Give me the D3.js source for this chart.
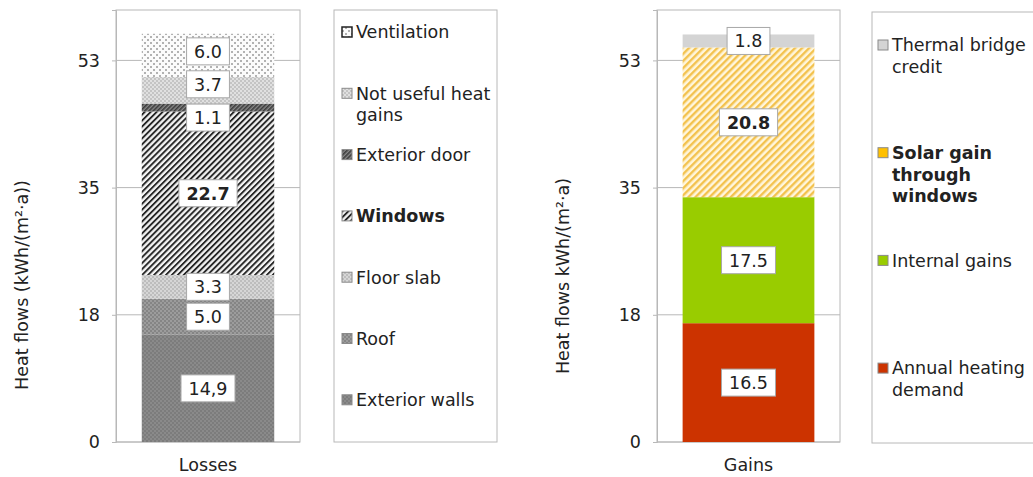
<!DOCTYPE html>
<meta charset="utf-8">
<script src="https://d3js.org/d3.v7.min.js"></script>
<style>
  body { margin: 0; background: #fff; }
  text { font-family: "DejaVu Sans", Verdana, sans-serif; fill: #222; }
</style>
<svg id="chart" width="1033" height="477"></svg>

<script>
// ---- data ----
var lossKeys = ["Exterior walls", "Roof", "Floor slab", "Windows", "Exterior door", "Not useful heat gains", "Ventilation"];
var lossValues = [14.9, 5.0, 3.3, 22.7, 1.1, 3.7, 6.0];
var lossLabels = ["14,9", "5.0", "3.3", "22.7", "1.1", "3.7", "6.0"];
var lossLegend = [["Exterior walls"], ["Roof"], ["Floor slab"], ["Windows"], ["Exterior door"], ["Not useful heat", "gains"], ["Ventilation"]];

var gainKeys = ["Annual heating demand", "Internal gains", "Solar gain through windows", "Thermal bridge credit"];
var gainValues = [16.5, 17.5, 20.8, 1.8];
var gainLabels = ["16.5", "17.5", "20.8", "1.8"];
var gainLegend = [["Annual heating", "demand"], ["Internal gains"], ["Solar gain", "through", "windows"], ["Thermal bridge", "credit"]];

var yTickValues = [0, 53 / 3, 106 / 3, 53];
var yTickLabels = ["0", "18", "35", "53"];

// label nudges (px) where the original moved a label off its segment centre
var lossLabelShift = [0, 0, 0, 0, 10, -6, -4];
var gainLabelShift = [0, 0, 0, 0];

var FS = 17.5;
var svg = d3.select("#chart");
var defs = svg.append("defs");

// ---- fill patterns ----
function dots(id, base, dot, size, pts) {
    var p = defs.append("pattern").attr("id", id)
        .attr("patternUnits", "userSpaceOnUse").attr("width", size).attr("height", size);
    p.append("rect").attr("width", size).attr("height", size).attr("fill", base);
    pts.forEach(function (d) {
        p.append("rect").attr("x", d[0]).attr("y", d[1]).attr("width", 2).attr("height", 2).attr("fill", dot);
    });
}
function stripes(id, base, line, period, w) {
    var p = defs.append("pattern").attr("id", id)
        .attr("patternUnits", "userSpaceOnUse").attr("width", period).attr("height", period)
        .attr("patternTransform", "rotate(45)");
    p.append("rect").attr("width", period).attr("height", period).attr("fill", base);
    p.append("rect").attr("width", w).attr("height", period).attr("fill", line);
}
dots("p-walls", "#7c7c7c", "#8a8a8a", 4, [[0, 0], [2, 2]]);
dots("p-roof", "#9c9c9c", "#858585", 4, [[0, 0], [2, 2]]);
dots("p-floor", "#d6d6d6", "#bdbdbd", 4, [[0, 0], [2, 2]]);
stripes("p-windows", "#f4f4f4", "#262626", 4.2, 1.9);
stripes("p-door", "#8a8a8a", "#3c3c3c", 3, 1.6);
dots("p-notuseful", "#e0e0e0", "#c4c4c4", 4, [[0, 0], [2, 2]]);
dots("p-vent", "#fbfbfb", "#b2b2b2", 6, [[0, 0], [3, 3]]);
stripes("p-solar", "#fff6dc", "#f3c24e", 5, 2.4);

var lossFills = ["url(#p-walls)", "url(#p-roof)", "url(#p-floor)", "url(#p-windows)", "url(#p-door)", "url(#p-notuseful)", "url(#p-vent)"];
var gainFills = ["#cc3300", "#99cc00", "url(#p-solar)", "#d4d4d4"];
var gainSwatch = ["#cc3300", "#99cc00", "#ffc000", "#d4d4d4"];

var y = d3.scaleLinear().domain([0, 60]).range([442, 10]);

function panel(o) {
    var g = svg.append("g");
    var x = d3.scaleBand().domain([o.cat]).range([o.x0, o.x1]).paddingInner(0.28).paddingOuter(0.14);

    // plot frame + gridlines
    g.append("rect").attr("x", o.x0).attr("y", y.range()[1])
        .attr("width", o.x1 - o.x0).attr("height", y.range()[0] - y.range()[1])
        .attr("fill", "none").attr("stroke", "#b8b8b8");
    g.selectAll(".grid").data(yTickValues).enter().append("line")
        .attr("x1", o.x0).attr("x2", o.x1)
        .attr("y1", function (d) { return y(d); }).attr("y2", function (d) { return y(d); })
        .attr("stroke", "#b8b8b8");

    var ya = g.append("g").attr("transform", "translate(" + o.x0 + ",0)")
        .call(d3.axisLeft(y).tickValues(yTickValues).tickSize(4).tickPadding(12)
            .tickFormat(function (d, i) { return yTickLabels[i]; }));
    ya.select(".domain").attr("stroke", "#b8b8b8");
    ya.selectAll(".tick line").attr("stroke", "#b8b8b8");
    ya.selectAll("text").attr("font-size", FS).attr("fill", "#333");

    var xa = g.append("g").attr("transform", "translate(0," + y(0) + ")")
        .call(d3.axisBottom(x).tickSize(0).tickPadding(17));
    xa.select(".domain").remove();
    xa.selectAll("text").attr("font-size", FS).attr("fill", "#222");

    g.append("text").attr("transform", "translate(" + o.titleX + "," + o.titleY + ") rotate(-90)")
        .attr("text-anchor", "middle").attr("dy", "0.35em").attr("font-size", FS)
        .text(o.title);

    // stacked segments
    var row = {};
    o.keys.forEach(function (k, i) { row[k] = o.values[i]; });
    var series = d3.stack().keys(o.keys)([row]);

    g.selectAll(".seg").data(series).enter().append("rect")
        .attr("x", x(o.cat)).attr("width", x.bandwidth())
        .attr("y", function (s) { return y(s[0][1]); })
        .attr("height", function (s) { return y(s[0][0]) - y(s[0][1]); })
        .attr("fill", function (s, i) { return o.fills[i]; });

    // value labels in white boxes
    series.forEach(function (s, i) {
        var cx = x(o.cat) + x.bandwidth() / 2;
        var cy = y((s[0][0] + s[0][1]) / 2) + o.shift[i];
        var lg = g.append("g");
        var box = lg.append("rect");
        var t = lg.append("text").attr("x", cx).attr("y", cy).attr("dy", "0.36em")
            .attr("text-anchor", "middle").attr("font-size", FS)
            .attr("font-weight", o.bold === i ? "bold" : "normal")
            .text(o.labels[i]);
        var w = t.node().getComputedTextLength() + 15;
        box.attr("x", cx - w / 2).attr("y", cy - 13.5).attr("width", w).attr("height", 27)
            .attr("fill", "#fff").attr("stroke", "#a8a8a8");
    });

    // legend
    g.append("rect").attr("x", o.lx0).attr("y", o.ly0).attr("width", o.lx1 - o.lx0).attr("height", o.ly1 - o.ly0)
        .attr("fill", "#fff").attr("stroke", "#b8b8b8");
    var n = o.keys.length;
    for (var j = 0; j < n; j++) {
        var idx = n - 1 - j;
        var ly = o.legTop + j * o.legStep;
        g.append("rect").attr("x", o.sx).attr("y", ly - 5).attr("width", 10).attr("height", 10)
            .attr("fill", o.swatch[idx]).attr("stroke", idx === o.darkEdge ? "#222" : "#8a8a8a")
            .attr("stroke-width", idx === o.darkEdge ? 1.5 : 1);
        var tx = g.append("text").attr("x", o.sx + 14).attr("y", ly).attr("font-size", FS)
            .attr("font-weight", o.bold === idx ? "bold" : "normal");
        o.legend[idx].forEach(function (line, k) {
            tx.append("tspan").attr("x", o.sx + 14).attr("y", ly + k * 21.5).attr("dy", "0.36em").text(line);
        });
    }
}

panel({
    cat: "Losses", x0: 116, x1: 300, keys: lossKeys, values: lossValues, labels: lossLabels,
    fills: lossFills, swatch: lossFills, legend: lossLegend, shift: lossLabelShift, bold: 3, darkEdge: 6,
    title: "Heat flows (kWh/(m\u00b2\u00b7a))", titleX: 22, titleY: 285,
    lx0: 334, lx1: 497, ly0: 10, ly1: 442, sx: 342, legTop: 32, legStep: 61.3
});
panel({
    cat: "Gains", x0: 657, x1: 840, keys: gainKeys, values: gainValues, labels: gainLabels,
    fills: gainFills, swatch: gainSwatch, legend: gainLegend, shift: gainLabelShift, bold: 2, darkEdge: -1,
    title: "Heat flows kWh/(m\u00b2\u00b7a)", titleX: 563, titleY: 276,
    lx0: 872, lx1: 1045, ly0: 12, ly1: 443, sx: 878, legTop: 45, legStep: 107.7
});
</script>
